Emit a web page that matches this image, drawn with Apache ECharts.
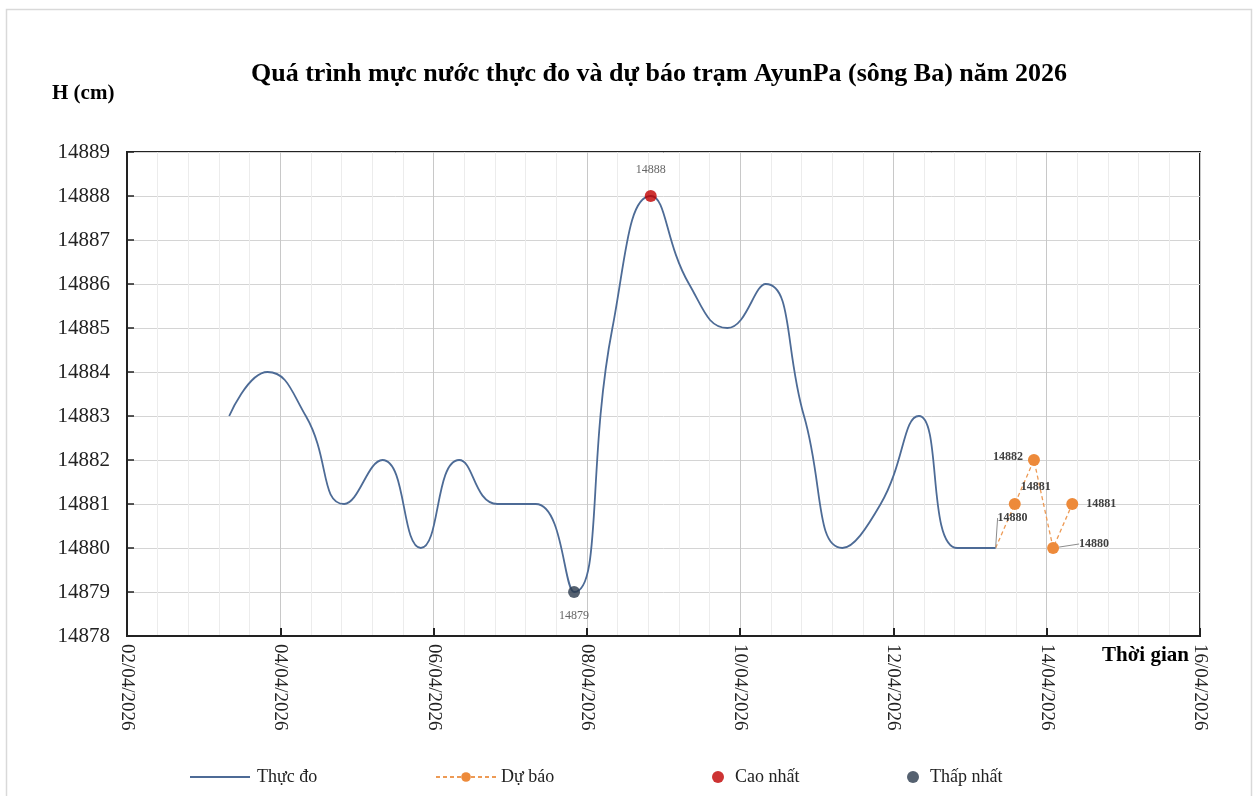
<!DOCTYPE html>
<html>
<head>
<meta charset="utf-8">
<title>AyunPa</title>
<script src="https://cdn.jsdelivr.net/npm/echarts@6/dist/echarts.min.js"></script>
<style>
  html, body { margin: 0; padding: 0; background: #fff; }
  #chart { width: 1253px; height: 796px; }
</style>
</head>
<body>
<div id="chart"></div>
<script>
// thoi diem do (moc 12h) va muc nuoc thuc do
const obsTimes = [
  '2026-04-03T08:00', '2026-04-03T20:00', '2026-04-04T08:00', '2026-04-04T20:00',
  '2026-04-05T08:00', '2026-04-05T20:00', '2026-04-06T08:00', '2026-04-06T20:00',
  '2026-04-07T08:00', '2026-04-07T20:00', '2026-04-08T08:00', '2026-04-08T20:00',
  '2026-04-09T08:00', '2026-04-09T20:00', '2026-04-10T08:00', '2026-04-10T20:00',
  '2026-04-11T08:00', '2026-04-11T20:00', '2026-04-12T08:00', '2026-04-12T20:00',
  '2026-04-13T08:00'
]
const obsValues = [
  14883, 14884, 14883, 14881, 14882, 14880, 14882, 14881, 14881, 14879, 14885,
  14888, 14886, 14885, 14886, 14883, 14880, 14881, 14883, 14880, 14880
]
// du bao (moc 6h)
const fcTimes = ['2026-04-13T08:00', '2026-04-13T14:00', '2026-04-13T20:00', '2026-04-14T02:00', '2026-04-14T08:00']
const fcValues = [14880, 14881, 14882, 14880, 14881]
// cao nhat / thap nhat
const maxPoint = ['2026-04-08T20:00', 14888]
const minPoint = ['2026-04-07T20:00', 14879]

const axisStart = '2026-04-02T00:00'
const yTicks = [14878, 14889]

const DAY = 86400000
const t0 = Date.parse(axisStart)
function toDay (t) {
  return (Date.parse(t) - t0) / DAY
}
function dayLabel (v) {
  let d = new Date(t0 + v * DAY)
  let dd = ('0' + d.getDate()).slice(-2)
  let mm = ('0' + (d.getMonth() + 1)).slice(-2)
  return dd + '/' + mm + '/' + d.getFullYear()
}

const serif = 'Liberation Serif, Times New Roman, serif'
const obsData = obsTimes.map((t, i) => [toDay(t), obsValues[i]])
// vi tri nhan du bao (nhan 0 va 3 co duong dan)
const fcLabelShift = [[17, -30], [21, -17], [-26, -3], [41, -4], [29, 0]]
const fcData = fcTimes.map((t, i) => {
  let item = { value: [toDay(t), fcValues[i]] }
  if (i === 0) item.symbolSize = 0
  if (i !== 0 && i !== 3) item.labelLine = { show: false }
  return item
})

let myChart = echarts.init(document.getElementById('chart'))
let option = {
  backgroundColor: '#fff',
  animation: false,
  title: [
    {
      text: 'Quá trình mực nước thực đo và dự báo trạm AyunPa (sông Ba) năm 2026',
      left: 246,
      top: 56,
      textStyle: { fontFamily: serif, fontSize: 26, fontWeight: 'bold', color: '#000' }
    },
    {
      text: 'H (cm)',
      left: 47,
      top: 78,
      textStyle: { fontFamily: serif, fontSize: 21, fontWeight: 'bold', color: '#000' }
    },
    {
      text: 'Thời gian',
      left: 1097,
      top: 640,
      textStyle: { fontFamily: serif, fontSize: 21, fontWeight: 'bold', color: '#000' }
    }
  ],
  graphic: [
    {
      type: 'rect',
      shape: { x: 6.5, y: 9.5, width: 1245, height: 800 },
      style: { fill: null, stroke: '#d9d9d9', lineWidth: 1.5 },
      silent: true
    }
  ],
  grid: {
    left: 127, right: 53, top: 152, bottom: 160,
    outerBoundsMode: 'none', containLabel: false,
    show: true, borderColor: '#222', borderWidth: 2, backgroundColor: 'transparent'
  },
  xAxis: {
    type: 'value',
    min: 0,
    max: 14,
    interval: 2,
    axisLine: { lineStyle: { color: '#222', width: 2 } },
    axisTick: { inside: true, length: 8, lineStyle: { color: '#222', width: 2 } },
    minorTick: { show: false, splitNumber: 5 },
    axisLabel: {
      rotate: -90,
      margin: 8,
      fontFamily: serif,
      fontSize: 19,
      color: '#222',
      formatter: dayLabel
    },
    splitLine: { show: true, lineStyle: { color: '#c8c8c8', width: 1 } },
    minorSplitLine: { show: true, lineStyle: { color: '#ececec', width: 1 } }
  },
  yAxis: {
    type: 'value',
    min: yTicks[0],
    max: yTicks[1],
    interval: 1,
    axisLine: { show: true, lineStyle: { color: '#222', width: 2 } },
    axisTick: { show: true, inside: true, length: 7, lineStyle: { color: '#222', width: 1.5 } },
    axisLabel: { fontFamily: serif, fontSize: 21, color: '#222', margin: 17, formatter: v => String(v) },
    splitLine: { show: true, lineStyle: { color: '#d4d4d4', width: 1 } }
  },
  legend: [
    { data: [{ name: 'Thực đo', icon: 'rect' }], left: 185, top: 763, itemWidth: 60, itemHeight: 2, textStyle: { fontFamily: serif, fontSize: 18, color: '#222', padding: [0, 0, 0, 2], lineHeight: 2, verticalAlign: 'middle' } },
    { data: ['Dự báo'], left: 430, top: 763, itemWidth: 60, itemHeight: 12, textStyle: { fontFamily: serif, fontSize: 18, color: '#222' } },
    { data: [{ name: 'Cao nhất', icon: 'circle' }], left: 707, top: 763, itemWidth: 12, itemHeight: 12, textStyle: { fontFamily: serif, fontSize: 18, color: '#222', padding: [0, 0, 0, 6] } },
    { data: [{ name: 'Thấp nhất', icon: 'circle' }], left: 902, top: 763, itemWidth: 12, itemHeight: 12, textStyle: { fontFamily: serif, fontSize: 18, color: '#222', padding: [0, 0, 0, 6] } }
  ],
  series: [
    {
      name: 'Thực đo',
      type: 'line',
      smooth: 0.5,
      symbol: 'none',
      color: '#4d6b96',
      lineStyle: { color: '#4d6b96', width: 1.8 },
      data: obsData,
      z: 2
    },
    {
      name: 'Dự báo',
      type: 'line',
      symbol: 'circle',
      symbolSize: 12,
      color: '#ed8a3a',
      itemStyle: { color: '#ed8a3a' },
      lineStyle: { color: '#ed9a55', width: 1.3, type: [4, 3] },
      data: fcData,
      label: {
        show: true,
        position: 'inside',
        fontFamily: serif,
        fontSize: 12,
        fontWeight: 'bold',
        color: '#404040',
        formatter: p => p.value[1]
      },
      labelLine: { show: true, lineStyle: { color: '#8c8c8c', width: 1 } },
      labelLayout: function (params) {
        let s = fcLabelShift[params.dataIndex]
        return { dx: s[0], dy: s[1] }
      },
      z: 3
    },
    {
      name: 'Cao nhất',
      type: 'scatter',
      symbolSize: 12,
      itemStyle: { color: '#c00000' },
      data: [[toDay(maxPoint[0]), maxPoint[1]]],
      label: { show: true, position: 'top', distance: 14, fontFamily: serif, fontSize: 12, color: '#404040', formatter: p => p.value[1] },
      z: 4
    },
    {
      name: 'Thấp nhất',
      type: 'scatter',
      symbolSize: 12,
      itemStyle: { color: '#2b3a4c' },
      data: [[toDay(minPoint[0]), minPoint[1]]],
      label: { show: true, position: 'bottom', distance: 12, fontFamily: serif, fontSize: 12, color: '#404040', formatter: p => p.value[1] },
      z: 4
    }
  ]
}
myChart.setOption(option)
</script>
</body>
</html>
